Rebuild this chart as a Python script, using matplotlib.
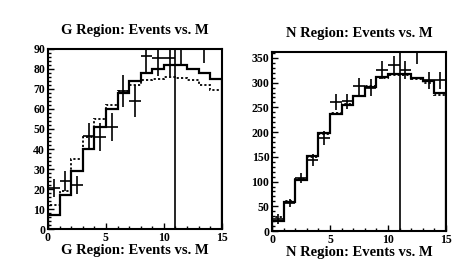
import numpy as np
import matplotlib
matplotlib.use("Agg")
import matplotlib.pyplot as plt
from matplotlib.ticker import MultipleLocator

plt.rcParams['font.family'] = ['Liberation Serif', 'DejaVu Serif']
plt.rcParams['font.weight'] = 'bold'

bin_edges = np.arange(0, 16, 1)
bin_centers = bin_edges[:-1] + 0.5

# G region
g_mc_solid = [7, 17, 29, 40, 51, 60, 68, 74, 78, 80, 82, 82, 80, 78, 75]
g_mc_dotted = [12, 19, 35, 46, 55, 62, 69, 72, 74.5, 75, 76, 75.5, 74.5, 72, 69.5]
g_data = [20.5, 24, 22, 46.5, 46, 51, 69, 64, 86.5, 85.5, 85.5, 92, 105, 93, 105]
g_err = [4.5, 5, 4.7, 6.5, 7, 7, 8, 8, 8.5, 9, 9, 9.5, 10, 10, 10]

# N region
n_mc_solid = [20, 58, 103, 152, 198, 237, 254, 272, 292, 312, 318, 318, 310, 303, 280]
n_mc_dotted = [28, 60, 105, 150, 196, 238, 256, 274, 294, 310, 316, 316, 307, 300, 276]
n_data = [25, 57, 108, 143, 188, 261, 262, 293, 290, 325, 335, 325, 365, 305, 305]
n_err = [10, 8, 10, 12, 14, 16, 16, 17, 17, 18, 18, 18, 27, 17, 17]

cut_value = 11


def draw_panel(ax, solid, dotted, data, err, ymax, ymajor, yminor, title):
    ax.stairs(solid, bin_edges, color='black', lw=1.6)
    ax.stairs(dotted, bin_edges, color='black', lw=1.3, linestyle=(0, (1.2, 1.2)))
    ax.errorbar(bin_centers, data, yerr=err, xerr=0.5, fmt='none',
                ecolor='black', elinewidth=1.2, capsize=0)
    ax.axvline(cut_value, color='black', lw=1.2)
    ax.set_xlim(0, 15)
    ax.set_ylim(0, ymax)
    ax.xaxis.set_major_locator(MultipleLocator(5))
    ax.xaxis.set_minor_locator(MultipleLocator(1))
    ax.yaxis.set_major_locator(MultipleLocator(ymajor))
    ax.yaxis.set_minor_locator(MultipleLocator(yminor))
    ax.tick_params(which='both', direction='in', top=False, right=False,
                   labelsize=8.5, width=1.0, pad=2)
    ax.tick_params(which='major', length=4)
    ax.tick_params(which='minor', length=2)
    for s in ax.spines.values():
        s.set_linewidth(1.5)
    ax.set_title(title, fontsize=10.5, fontweight='bold', pad=11)
    ax.set_xlabel(title, fontsize=10.5, fontweight='bold', labelpad=0)


fig = plt.figure(figsize=(4.66, 2.78), dpi=100)
ax1 = fig.add_axes([0.103, 0.176, 0.373, 0.648])
ax2 = fig.add_axes([0.584, 0.169, 0.373, 0.644])

draw_panel(ax1, g_mc_solid, g_mc_dotted, g_data, g_err, 90, 10, 2,
           'G Region: Events vs. M')
draw_panel(ax2, n_mc_solid, n_mc_dotted, n_data, n_err, 362, 50, 10,
           'N Region: Events vs. M')

fig.savefig('out.png', dpi=100)
